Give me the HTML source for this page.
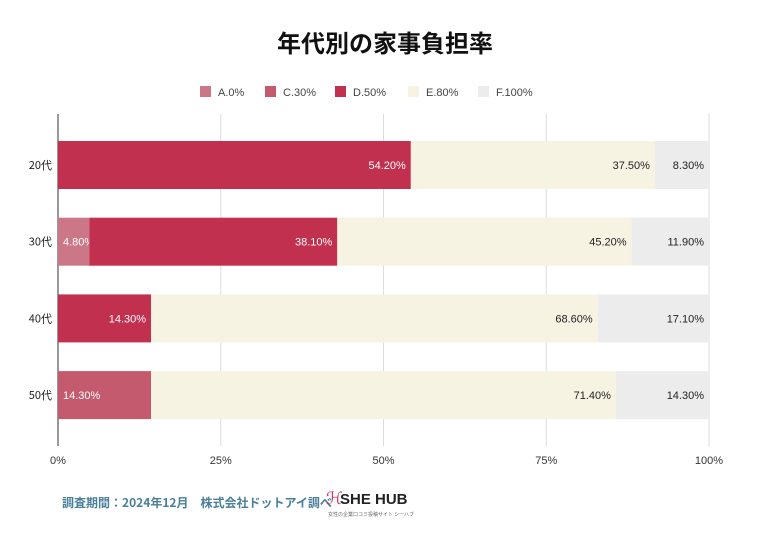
<!DOCTYPE html>
<html><head><meta charset="utf-8"><style>
body{margin:0;background:#fff;width:770px;height:548px;overflow:hidden;font-family:"Liberation Sans","Noto Sans CJK JP",sans-serif}
</style></head><body>
<svg width="770" height="548" xmlns="http://www.w3.org/2000/svg">
<text x="385" y="52" text-anchor="middle" font-size="24" font-weight="bold" fill="#111" font-family="Noto Sans CJK JP, sans-serif">年代別の家事負担率</text>
<g id="legend"></g>
<g id="grid"></g>
<g id="bars"></g>
<g id="xaxis"></g>
<g id="yaxis"></g>
<text x="62" y="507" font-size="12" font-weight="bold" fill="#4a7f9a" font-family="Noto Sans CJK JP, sans-serif">調査期間：2024年12月　株式会社ドットアイ調べ</text>
<g>
<text x="326" y="504" font-size="17" fill="#d0345a" font-family="Noto Sans CJK JP, sans-serif">ℋ</text>
<text x="340" y="504" font-size="15" fill="#222" font-weight="bold">SHE HUB</text>
<text x="328" y="516" font-size="5" fill="#666" font-family="Noto Sans CJK JP, sans-serif">女性の企業口コミ投稿サイト シーハブ</text>
</g>
</svg>
<script>
const categories=["20代","30代","40代","50代"];
const seriesNames=["A.0%","C.30%","D.50%","E.80%","F.100%"];
const seriesA=[0,4.8,0,0];
const seriesC=[0,0,0,14.3];
const seriesD=[54.2,38.1,14.3,0];
const seriesE=[37.5,45.2,68.6,71.4];
const seriesF=[8.3,11.9,17.1,14.3];
const showA=[true,true,true,false];
const showC=[false,false,false,true];
const showD=[true,true,true,true];
const ticks=[0,25,50,75,100];
const tickLabels=["0%","25%","50%","75%","100%"];
const colors=["#cc7788","#c45a6e","#c1304e","#f7f3e3","#ececec"];
const NS="http://www.w3.org/2000/svg";
const X0=58,X1=709;
const x=v=>X0+(X1-X0)*v/100;
const yc=i=>165+i*76.7;
const BH=48;
function mk(t,a,p){const e=document.createElementNS(NS,t);for(const k in a)e.setAttribute(k,a[k]);p.appendChild(e);return e;}
const grid=document.getElementById('grid'),bars=document.getElementById('bars'),xa=document.getElementById('xaxis'),ya=document.getElementById('yaxis'),lg=document.getElementById('legend');
ticks.forEach((t,i)=>{
 const l=mk('line',{x1:x(t),x2:x(t),y1:114,y2:446,stroke:t===0?'#555':'#ddd','stroke-width':t===0?1.2:1},grid);
 
 
 const tx=mk('text',{x:x(t),y:464,'text-anchor':'middle','font-size':11,fill:'#333'},xa);
 tx.textContent=tickLabels[i];
 
 
});
const lx=[200,265,335,408,478];
seriesNames.forEach((n,i)=>{
 const r=mk('rect',{x:lx[i],y:86,width:11,height:11,fill:colors[i]},lg);
 
 
 const t=mk('text',{x:lx[i]+18,y:96,'font-size':11,fill:'#444'},lg);
 t.textContent=n;
 
 
});
const all=[seriesA,seriesC,seriesD,seriesE,seriesF];
const fmt=v=>v.toFixed(2)+"%";
categories.forEach((c,i)=>{
 const cy=yc(i);
 const lab=mk('text',{x:52,y:cy+4,'text-anchor':'end','font-size':11,fill:'#222','font-family':'Noto Sans CJK JP, sans-serif'},ya);
 lab.textContent=c;
 
 
 let acc=0;
 all.forEach((s,k)=>{
  const v=s[i];const xs=x(acc),xe=x(acc+v);
  const r=mk('rect',{x:xs,y:cy-BH/2,width:Math.max(0,xe-xs),height:BH,fill:colors[k]},bars);
  
  
  let show=true,tx,anchor,fill='#fff';
  if(k===0){show=showA[i];tx=xs+5;anchor='start';}
  else if(k===1){show=showC[i];tx=xs+5;anchor='start';}
  else if(k===2){show=showD[i];if(v===0){tx=xs+10;anchor='start';fill='#c1406a';}else{tx=xe-5;anchor='end';}}
  else{tx=xe-5;anchor='end';fill='#222';}
  if(show){
   const t=mk('text',{x:tx,y:cy+4,'text-anchor':anchor,'font-size':11,fill:fill},bars);
   t.textContent=fmt(v);
   
   
  }
  acc+=v;
 });
});
</script>
</body></html>
